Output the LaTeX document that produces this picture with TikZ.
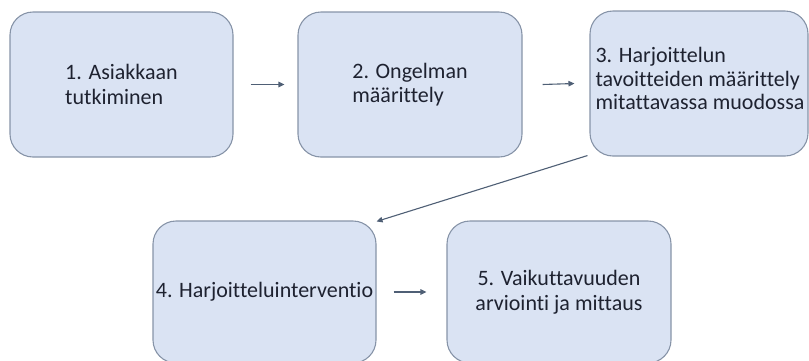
\documentclass[tikz,border=0pt]{standalone}
\usepackage{fontspec}
\setmainfont[Ligatures={NoCommon}]{Carlito}
\usetikzlibrary{arrows.meta}
\definecolor{boxfill}{HTML}{DAE3F3}
\definecolor{boxline}{HTML}{8794A8}
\definecolor{arrowcol}{HTML}{4F5F75}
\definecolor{txtcol}{HTML}{1E2230}
\tikzset{
  stepbox/.style={draw=boxline, line width=1.1pt, fill=boxfill, rounded corners=23pt,
    inner sep=0pt, text=txtcol, font=\fontsize{22}{24.5}\selectfont},
  steptext/.style={inner sep=0pt, text=txtcol, font=\fontsize{22}{23.5}\selectfont, align=left},
  flow/.style={draw=arrowcol, line width=1.1pt, -{Triangle[length=6pt,width=5.5pt]}}
}
\begin{document}
\begin{tikzpicture}[x=1pt,y=-1pt]
\useasboundingbox (0,0) rectangle (809,360);
\node[stepbox, minimum width=223pt, minimum height=145pt, align=left] (b1) at (121.5,84.5) {1. Asiakkaan\\tutkiminen};
\node[stepbox, minimum width=224pt, minimum height=145pt, align=left] (b2) at (410,84.5) {2. Ongelman\\määrittely};
\node[stepbox, minimum width=218pt, minimum height=145pt] (b3) at (699,83.5) {};
\node[steptext] (t3) at ([shift={(1,-5)}]b3.center) {3. Harjoittelun\\tavoitteiden määrittely\\mitattavassa muodossa};
\node[stepbox, minimum width=223pt, minimum height=142pt, align=center] (b4) at (264.5,292) {4. Harjoitteluinterventio};
\node[stepbox, minimum width=224pt, minimum height=142pt, align=center] (b5) at (559,292) {5. Vaikuttavuuden\\arviointi ja mittaus};
\draw[flow] ([xshift=17pt]b1.east) -- ([xshift=-13pt]b2.west);
\draw[flow] ([xshift=20pt]b2.east) -- ([xshift=-15pt]b3.west);
\draw[flow] ([shift={(-2,-1)}]b3.south west) -- ([shift={(0,1)}]b4.north east);
\draw[flow] ([xshift=17pt]b4.east) -- ([xshift=-20pt]b5.west);
\end{tikzpicture}
\end{document}
